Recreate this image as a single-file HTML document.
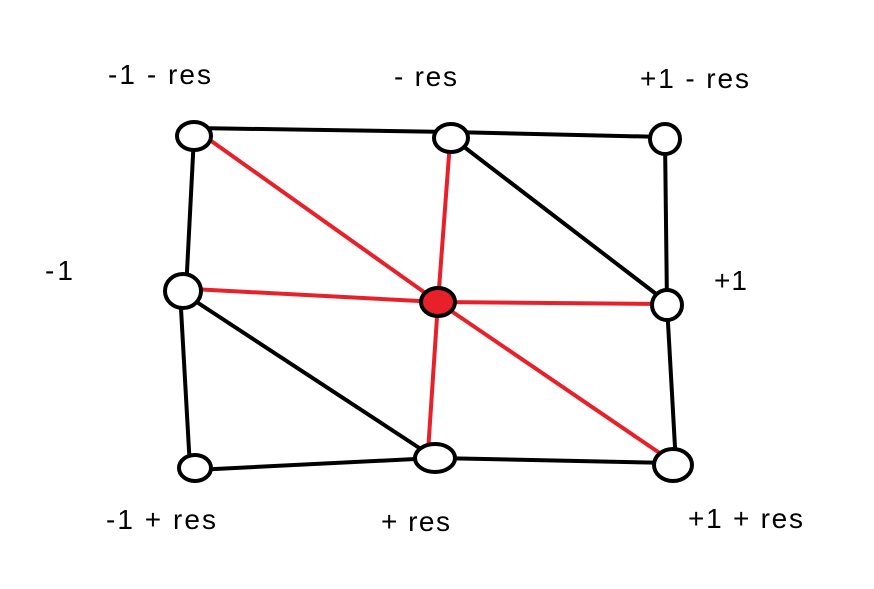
<!DOCTYPE html>
<html><head><meta charset="utf-8"><style>
html,body{margin:0;padding:0;background:#fff;}
svg{display:block;}
text{font-family:"Liberation Sans",Arial,sans-serif;font-size:28px;fill:#000;}
</style></head><body>
<svg width="874" height="589" viewBox="0 0 874 589" xmlns="http://www.w3.org/2000/svg">
<rect width="874" height="589" fill="#fff"/>
<g stroke="#000" stroke-width="4" fill="none" stroke-linecap="round">
<line x1="194" y1="128" x2="451" y2="132"/>
<line x1="451" y1="132" x2="665" y2="137"/>
<line x1="194" y1="136" x2="186" y2="291"/>
<line x1="665" y1="139" x2="667" y2="305"/>
<line x1="455" y1="140" x2="664" y2="300"/>
<line x1="180" y1="291" x2="190" y2="468"/>
<line x1="186" y1="295" x2="430" y2="455"/>
<line x1="195" y1="470" x2="435" y2="458"/>
<line x1="435" y1="458" x2="673" y2="463"/>
<line x1="667" y1="305" x2="676" y2="465"/>
</g>
<g stroke="#e8202a" stroke-width="4" fill="none" stroke-linecap="round">
<line x1="200" y1="133" x2="438" y2="302"/>
<line x1="450" y1="142" x2="438" y2="302"/>
<line x1="192" y1="289" x2="438" y2="302"/>
<line x1="438" y1="302" x2="664" y2="304"/>
<line x1="438" y1="302" x2="428" y2="452"/>
<line x1="438" y1="302" x2="664" y2="456"/>
</g>
<g stroke="#000" stroke-width="4" fill="#fff">
<ellipse cx="194" cy="136" rx="17" ry="14"/>
<ellipse cx="451" cy="138" rx="17" ry="14"/>
<ellipse cx="665" cy="139" rx="15" ry="15"/>
<ellipse cx="183" cy="291" rx="18" ry="17"/>
<ellipse cx="667" cy="305" rx="15" ry="15"/>
<ellipse cx="195" cy="468" rx="16" ry="13"/>
<ellipse cx="435" cy="458" rx="20" ry="14"/>
<ellipse cx="673" cy="465" rx="19" ry="16"/>
</g>
<ellipse cx="438" cy="302" rx="17" ry="14" fill="#e8202a" stroke="#000" stroke-width="4"/>
<text x="108" y="84" textLength="103" lengthAdjust="spacing">-1 - res</text>
<text x="394" y="86" textLength="63" lengthAdjust="spacing">- res</text>
<text x="640" y="88" textLength="109" lengthAdjust="spacing">+1 - res</text>
<text x="45" y="280" textLength="28" lengthAdjust="spacing">-1</text>
<text x="714" y="290" textLength="33" lengthAdjust="spacing">+1</text>
<text x="106" y="529" textLength="110" lengthAdjust="spacing">-1 + res</text>
<text x="381" y="531" textLength="69" lengthAdjust="spacing">+ res</text>
<text x="688" y="528" textLength="115" lengthAdjust="spacing">+1 + res</text>
</svg>
</body></html>
